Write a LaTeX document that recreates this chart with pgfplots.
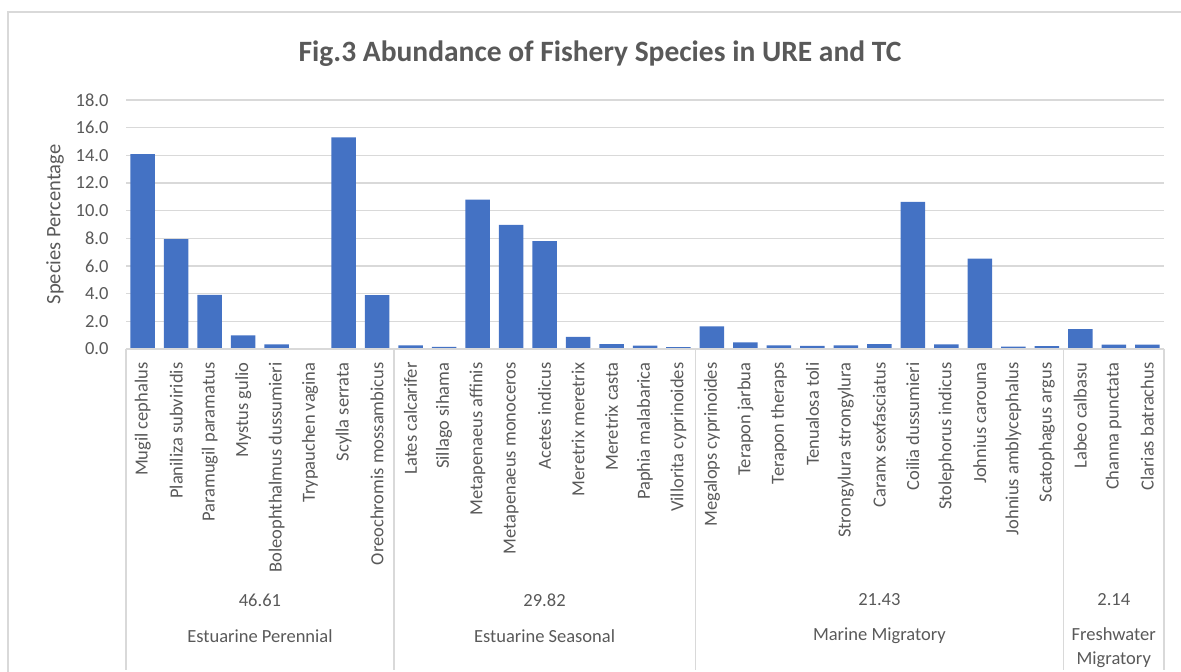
\documentclass[border=0pt]{standalone}
\usepackage{pgfplots}
\pgfplotsset{compat=1.18}
\usepackage{pgfplotstable}
\usepackage{fontspec}
\setmainfont{Carlito}
\definecolor{barblue}{HTML}{4472C4}
\definecolor{txt}{HTML}{595959}
\definecolor{gridc}{HTML}{D9D9D9}

\pgfplotstableread{
x y
0 14.08
1 7.95
2 3.92
3 0.98
4 0.33
5 0.07
6 15.30
7 3.90
8 0.27
9 0.16
10 10.80
11 8.98
12 7.80
13 0.87
14 0.36
15 0.25
16 0.14
17 1.64
18 0.47
19 0.27
20 0.22
21 0.27
22 0.36
23 10.63
24 0.33
25 6.54
26 0.17
27 0.20
28 1.43
29 0.32
30 0.32
}\species

\begin{document}
\begin{tikzpicture}[x=1pt,y=1pt]
\useasboundingbox (0,0) rectangle (1181,672);
\draw[gridc, line width=1.3pt] (8,-5) -- (8,660) -- (1190,660);
\node[text=txt, font=\fontsize{29.5}{34}\selectfont\bfseries] at (600,618) {Fig.3 Abundance of Fishery Species in URE and TC};
\begin{axis}[
  at={(126pt,323pt)}, anchor=south west,
  scale only axis, width=1038pt, height=249pt,
  xmin=-0.5, xmax=30.5, ymin=0, ymax=18,
  ytick={0,2,...,18},
  ybar, bar width=24.5pt,
  axis line style={draw=none},
  major tick length=0pt,
  ymajorgrids, grid style={gridc, line width=1.2pt},
  clip=false,
  /pgf/number format/assume math mode=true,
  yticklabel style={text=txt, font=\fontsize{18.5}{22}\selectfont,
    /pgf/number format/.cd, fixed, fixed zerofill, precision=1},
  yticklabel shift=14pt,
  xtick=data,
  xticklabels={Mugil cephalus, Planiliza subviridis, Paramugil paramatus, Mystus gulio, Boleophthalmus dussumieri, Trypauchen vagina, Scylla serrata, Oreochromis mossambicus, Lates calcarifer, Sillago sihama, Metapenaeus affinis, Metapenaeus monoceros, Acetes indicus, Meretrix meretrix, Meretrix casta, Paphia malabarica, Villorita cyprinoides, Megalops cyprinoides, Terapon jarbua, Terapon theraps, Tenualosa toli, Strongylura strongylura, Caranx sexfasciatus, Coilia dussumieri, Stolephorus indicus, Johnius carouna, Johnius amblycephalus, Scatophagus argus, Labeo calbasu, Channa punctata, Clarias batrachus},
  xticklabel style={rotate=90, anchor=east, text=txt, font=\fontsize{18.5}{22}\selectfont},
  xticklabel shift=10pt,
]
\addplot[fill=barblue, draw=none] table[x=x, y=y] {\species};
\draw[gridc, line width=1.3pt] (rel axis cs:0,0) -- (rel axis cs:1,0);
\pgfplotsinvokeforeach{-0.5,7.5,16.5,27.5,30.5}{
  \draw[gridc, line width=1.3pt] (axis cs:#1,0) -- ++(0pt,-321pt);
}
\node[rotate=90, text=txt, font=\fontsize{20.5}{24}\selectfont] at ([xshift=-71pt]rel axis cs:0,0.5) {Species Percentage};
\node[text=txt, font=\fontsize{18.5}{24}\selectfont] at ([yshift=-251pt]axis cs:3.5,0) {46.61};
\node[text=txt, font=\fontsize{18.5}{24}\selectfont] at ([yshift=-287pt]axis cs:3.5,0) {Estuarine Perennial};
\node[text=txt, font=\fontsize{18.5}{24}\selectfont] at ([yshift=-251pt]axis cs:12,0) {29.82};
\node[text=txt, font=\fontsize{18.5}{24}\selectfont] at ([yshift=-287pt]axis cs:12,0) {Estuarine Seasonal};
\node[text=txt, font=\fontsize{18.5}{24}\selectfont] at ([yshift=-251pt]axis cs:22,0) {21.43};
\node[text=txt, font=\fontsize{18.5}{24}\selectfont] at ([yshift=-287pt]axis cs:22,0) {Marine Migratory};
\node[text=txt, font=\fontsize{18.5}{24}\selectfont] at ([yshift=-251pt]axis cs:29,0) {2.14};
\node[text=txt, font=\fontsize{18.5}{24}\selectfont, align=center] at ([yshift=-299pt]axis cs:29,0) {Freshwater\\Migratory};
\end{axis}
\end{tikzpicture}
\end{document}
